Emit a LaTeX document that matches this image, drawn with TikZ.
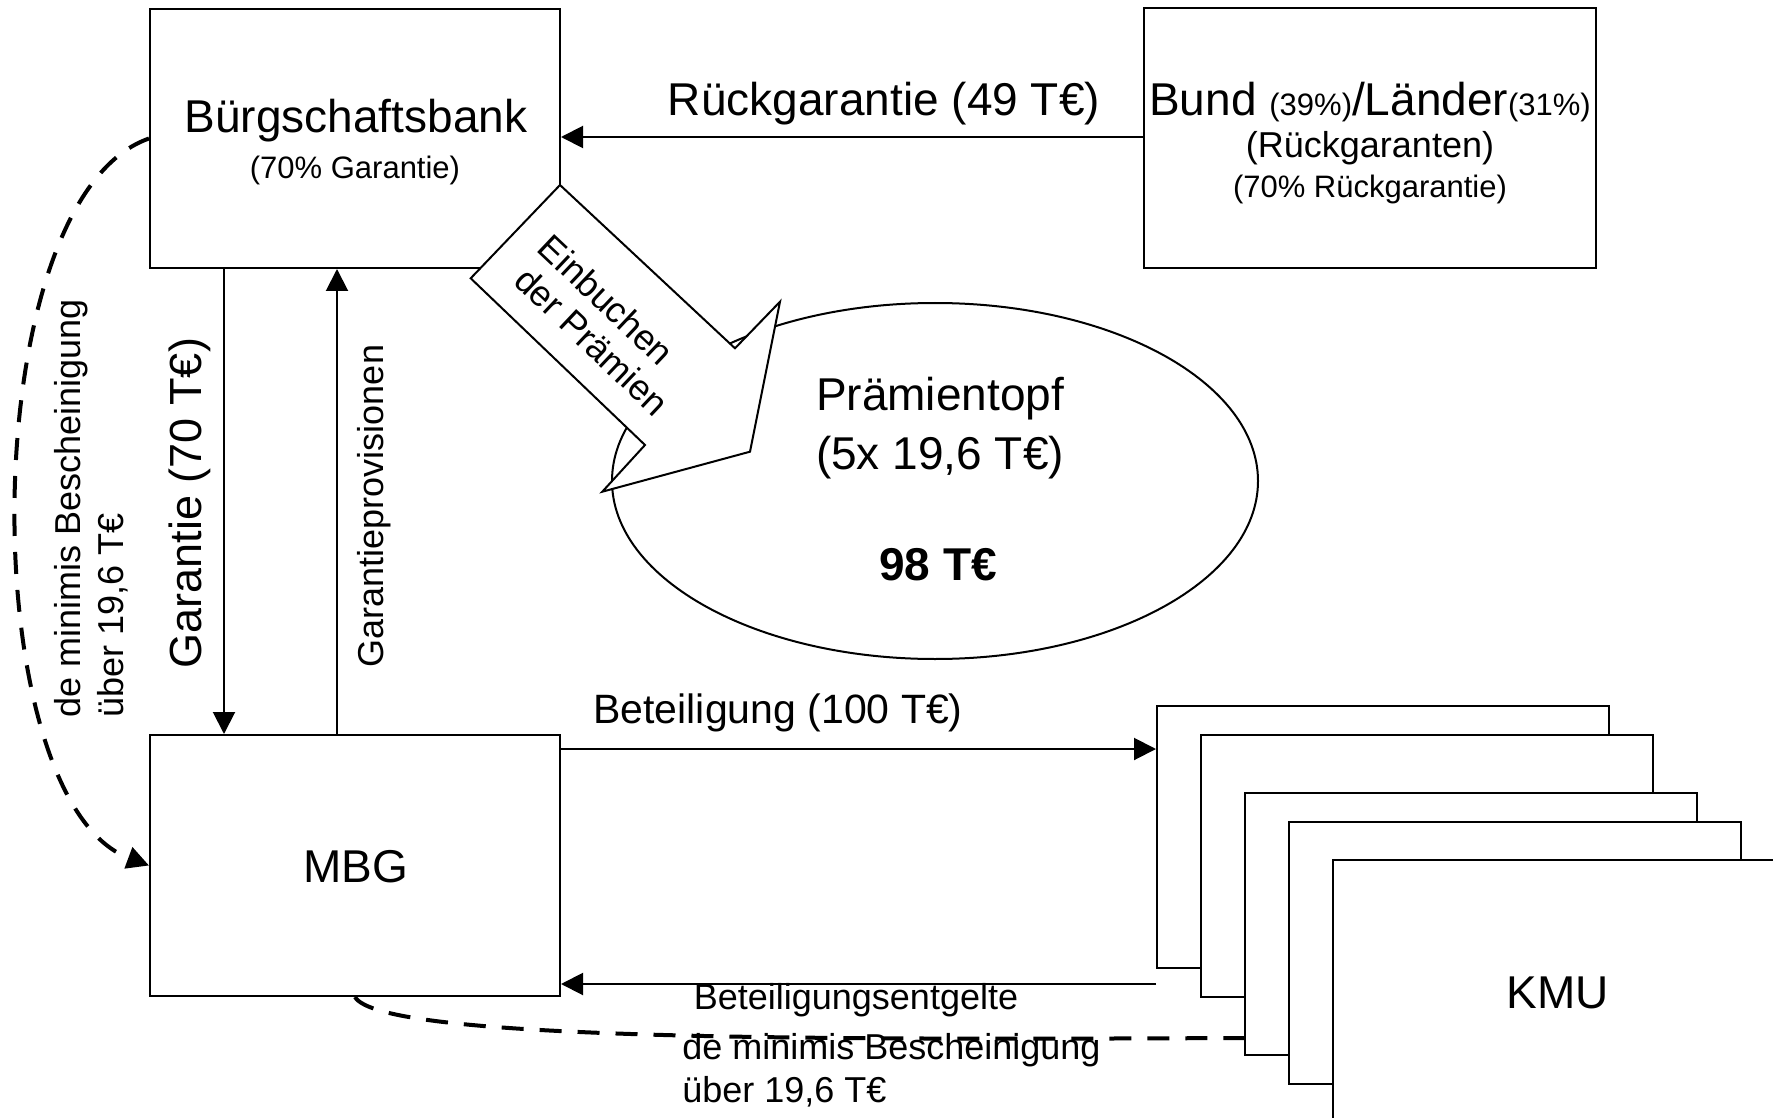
\documentclass[tikz,border=0pt]{standalone}
\usepackage{fontspec}
\setmainfont{Liberation Sans}
\usetikzlibrary{arrows.meta,shapes.geometric}
\newcommand\FsBig{\fontsize{23}{27}\selectfont}
\newcommand\FsGar{\fontsize{22.5}{26}\selectfont}
\newcommand\FsBet{\fontsize{20.5}{24}\selectfont}
\newcommand\FsMed{\fontsize{18}{21.5}\selectfont}
\newcommand\FsEin{\fontsize{18}{20}\selectfont}
\newcommand\FsSmall{\fontsize{15.5}{18}\selectfont}
\begin{document}
\begin{tikzpicture}[x=0.5pt,y=-0.5pt,
  box/.style={draw, line width=1pt, fill=white, inner sep=0pt},
  kbox/.style={box, minimum width=226pt, minimum height=131pt},
  arr/.style={line width=1pt, -{Triangle[length=11pt,width=11pt]}},
  dline/.style={line width=2pt, dash pattern=on 11pt off 8pt},
  txt/.style={inner sep=0pt}]
\useasboundingbox (0,0) rectangle (1773,1118);
\fill[white] (0,0) rectangle (1773,1118);

% boxes
\node[box, minimum width=205pt, minimum height=129.5pt] (bb) at (355,138.5) {};
\node[box, minimum width=226pt, minimum height=130pt] (bund) at (1370,138) {};
\node[box, minimum width=205pt, minimum height=130.5pt] (mbg) at (355,865.5) {};
\node[kbox] (k1) at (1383,837) {};
\node[kbox] (k2) at (1427,866) {};
\node[kbox] (k3) at (1471,924) {};
\node[kbox] (k4) at (1515,953) {};
\node[kbox] (k5) at (1559,991) {};

% ellipse
\node[draw, ellipse, line width=1pt, minimum width=323pt, minimum height=178pt, inner sep=0pt] (pot) at (935,481) {};

% helper coordinates
\coordinate (yR) at (0,137);
\coordinate (xG) at (224,0);
\coordinate (xP) at (337,0);
\coordinate (yB) at (0,749);
\coordinate (yE) at (0,984);
\coordinate (yD) at (0,1038);

% connectors
\draw[arr] (bund.west |- yR) -- (bb.east |- yR);
\draw[arr] (bb.south -| xG) -- (mbg.north -| xG);
\draw[arr] (mbg.north -| xP) -- (bb.south -| xP);
\draw[arr] (mbg.east |- yB) -- (k1.west |- yB);
\draw[arr] (k1.west |- yE) -- (mbg.east |- yE);
\draw[dline, -{Triangle[length=11pt,width=11pt]}] (bb.west) .. controls (-27,200) and (-27,800) .. (mbg.west);
\draw[dline] (mbg.south) .. controls (380,1040) and (800,1040) .. (k3.west |- yD);

% block arrow
\draw[line width=1pt, fill=white, line join=miter] (560,185) -- (735,348.3) -- (780,301.7) -- (750,451.7) -- (602.3,491.7) -- (645,445) -- (470.7,278.3) -- cycle;
\node[txt, rotate=-43.4, align=left, font=\FsEin] (einb) at (604,325) {Einbuchen\\\hspace*{2.5pt}der Prämien};

% texts
\node[txt, font=\FsBig] (bbt) at (356,121) {Bürgschaftsbank};
\node[txt, font=\FsSmall] (bbs) at (355,170) {(70\% Garantie)};
\node[txt, font=\FsBig] (bundt) at (1370,102) {Bund {\FsSmall(39\%)}/Länder{\FsSmall(31\%)}};
\node[txt, font=\FsMed] (bunds) at (1370,148) {(Rückgaranten)};
\node[txt, font=\FsSmall] (bundr) at (1370,189) {(70\% Rückgarantie)};
\node[txt, font=\FsBig] (rgl) at (884,104) {Rückgarantie (49 T€)};
\node[txt, font=\FsGar, rotate=90] (garl) at (190,503) {Garantie (70 T€)};
\node[txt, font=\FsMed, rotate=90] (gpl) at (374,506) {Garantieprovisionen};
\node[txt, font=\FsMed, rotate=90, anchor=west, align=left] (dml) at (91.5,718) {de minimis Bescheinigung\\über 19,6 T€};
\node[txt, font=\FsBet] (betl) at (778,713) {Beteiligung (100 T€)};
\node[txt, font=\FsMed] (bel) at (856,1000) {Beteiligungsentgelte};
\node[txt, font=\FsMed, anchor=west] (dmb) at (682,1050) {de minimis Bescheinigung};
\node[txt, font=\FsMed, anchor=west] (dmc) at (682,1092) {über 19,6 T€};
\node[txt, font=\FsBig] (mbgt) at (356,867) {MBG};
\node[txt, font=\FsBig] (kmut) at (1558,993) {KMU};
\node[txt, font=\FsBig] (pt1) at (940,399) {Prämientopf};
\node[txt, font=\FsBig] (pt2) at (940,458) {(5x 19,6 T€)};
\node[txt, font=\FsBig\bfseries] (pt3) at (938,565) {98 T€};
\end{tikzpicture}
\end{document}
